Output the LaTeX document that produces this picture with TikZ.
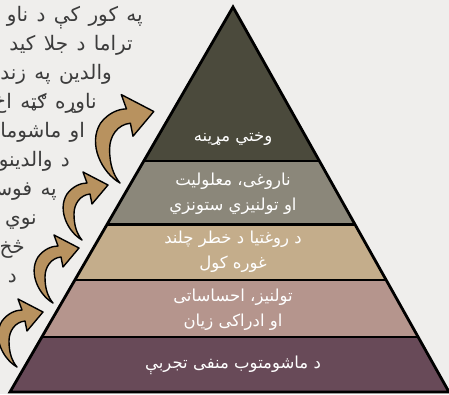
\documentclass[tikz,border=0pt]{standalone}
\usepackage{fontspec}
\newfontfamily\arabicfont[Script=Arabic]{DejaVu Sans}
\TeXXeTstate=1
\usetikzlibrary{positioning,calc}
\definecolor{bgpaper}{HTML}{EFEEEC}
\definecolor{tierA}{HTML}{4B4A3C}
\definecolor{tierB}{HTML}{8B877A}
\definecolor{tierC}{HTML}{C4AD8B}
\definecolor{tierD}{HTML}{B5958D}
\definecolor{tierE}{HTML}{684A58}
\definecolor{arrowtan}{HTML}{B8925F}
\definecolor{sidegray}{HTML}{3C3C3C}

\begin{document}
\begin{tikzpicture}[x=1pt,y=-1pt,
    tierline/.style={draw=black,line width=2.8pt},
    tiertext/.style={text=white,font=\arabicfont\fontsize{16.5}{25}\selectfont,align=center,inner sep=0pt},
    sidetext/.style={text=sidegray,font=\arabicfont\fontsize{20}{24}\selectfont,anchor=base east,inner sep=0pt},
    bendarrow/.style={fill=arrowtan,draw=black,line width=1.4pt,line join=round}]
  \fill[bgpaper] (0,0) rectangle (449,394);
  \useasboundingbox (0,0) rectangle (449,394);
  \clip (0,0) rectangle (449,394);
  % text along the left side
  \foreach \xr/\yb/\txt in {143/21/{په کور کې د ناو},133/50/{تراما د جلا کید},112/79/{والدین په زندا},
    97/108/{ناوړه ګټه اخ},85/137/{او ماشوما},70/166/{د والدینو},57/195/{په فوس},
    37/224/{نوي},25/253/{څخ},17/282/{د}}
    {\node[sidetext] (side-\yb) at (\xr,\yb) {\spaceskip=0.42em\beginR\txt\endR};}
  % pyramid
  \coordinate (apex) at (233,7);
  \coordinate (bl) at (10,392);
  \coordinate (br) at (449,392);
  \fill[tierA] (apex) -- ($(apex)!0.4!(bl)$) -- ($(apex)!0.4!(br)$) -- cycle;
  \foreach \ta/\tb/\col in {0.4/0.564/tierB,0.564/0.709/tierC,0.709/0.857/tierD,0.857/1/tierE}
    {\fill[\col] ($(apex)!\ta!(bl)$) -- ($(apex)!\tb!(bl)$) -- ($(apex)!\tb!(br)$) -- ($(apex)!\ta!(br)$) -- cycle;}
  \foreach \ta in {0.4,0.564,0.709,0.857}
    {\draw[tierline] ($(apex)!\ta!(bl)$) -- ($(apex)!\ta!(br)$);}
  \draw[tierline,line join=miter] (apex) -- (bl) -- (br) -- cycle;
  % labels of the tiers
  \node[tiertext] (tier-a) at (233,139) {\beginR وختي مړینه\endR};
  \node[tiertext] (tier-b) at (233,194) {\beginR ناروغی، معلولیت\endR\\\beginR او تولنیزي ستونزي\endR};
  \node[tiertext] (tier-c) at (233,252) {\beginR د روغتیا د خطر چلند\endR\\\beginR غوره کول\endR};
  \node[tiertext] (tier-d) at (233,310) {\beginR تولنیز، احساساتی\endR\\\beginR او ادراکی زیان\endR};
  \node[tiertext] (tier-e) at (233,365) {\beginR د ماشومتوب منفی تجربې\endR};
  % curved arrows
  \foreach \ax/\ay/\as in {17/367/1,53/303/1,82/240/1,120/183/1.3}
    {\begin{scope}[shift={(\ax,\ay)},scale=\as]
     \filldraw[bendarrow] (0,0) .. controls (-14,-8) and (-25,-30) .. (-15,-46)
       .. controls (-9,-54) and (-1,-57) .. (5,-57) -- (1,-68) -- (26,-55) -- (10,-36) -- (8,-46)
       .. controls (-2,-45) and (-8,-36) .. (-8,-26) .. controls (-8,-14) and (-5,-6) .. (0,0) -- cycle;
     \end{scope}}
\end{tikzpicture}
\end{document}
